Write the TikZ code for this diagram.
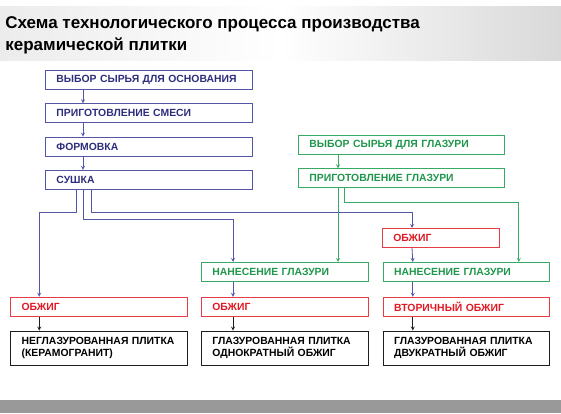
\documentclass[tikz,border=0pt]{standalone}
\usepackage{fontspec}
\setmainfont{Liberation Sans}
\usetikzlibrary{positioning, arrows, calc}
\definecolor{navy}{RGB}{45,45,125}
\definecolor{navyline}{RGB}{85,85,165}
\definecolor{grn}{RGB}{30,150,75}
\definecolor{grnline}{RGB}{55,170,100}
\definecolor{rd}{RGB}{225,25,35}
\definecolor{rdline}{RGB}{230,60,70}
\definecolor{blk}{RGB}{30,30,30}

\tikzset{
    box/.style={draw, anchor=north west, minimum height=19pt, inner xsep=11pt, inner ysep=2pt,
        text width=#1, align=left, font=\bfseries\fontsize{10.4}{12.5}\selectfont},
    bluebox/.style={box=#1, draw=navyline, text=navy},
    greenbox/.style={box=#1, draw=grnline, text=grn},
    redbox/.style={box=#1, draw=rdline, text=rd},
    tilebox/.style={box=#1, draw=blk, text=black, minimum height=34pt},
}

\begin{document}
\begin{tikzpicture}[x=1pt, y=-1pt, >=stealth, line width=0.8pt, node distance=13.5pt]
        \useasboundingbox (0,0) rectangle (561,413);
        \shade[left color=gray!15, right color=gray!30, middle color=white] (0,6) rectangle (561,60);
        \fill[gray!80] (0,400) rectangle (561,413);

        \node[anchor=base west, align=left, inner sep=0pt, font=\bfseries\fontsize{17}{22}\selectfont] (title) at (5,50)
            {Схема технологического процесса производства\\керамической плитки};

        \node[bluebox=185pt] (base) at (45,70) {ВЫБОР СЫРЬЯ ДЛЯ ОСНОВАНИЯ};
        \node[bluebox=185pt] (mix) [below=of base] {ПРИГОТОВЛЕНИЕ СМЕСИ};
        \node[bluebox=185pt] (form) [below=of mix] {ФОРМОВКА};
        \node[bluebox=185pt] (dry) [below=of form] {СУШКА};

        \node[greenbox=184pt] (gsel) at (298,135) {ВЫБОР СЫРЬЯ ДЛЯ ГЛАЗУРИ};
        \node[greenbox=184pt] (gprep) [below=of gsel] {ПРИГОТОВЛЕНИЕ ГЛАЗУРИ};

        \node[greenbox=145pt] (glaze2) at (201,262) {НАНЕСЕНИЕ ГЛАЗУРИ};
        \node[redbox=145pt] (fire2) [below=15pt of glaze2] {ОБЖИГ};
        \node[tilebox=145pt] (tile2) [below=14pt of fire2] {ГЛАЗУРОВАННАЯ ПЛИТКА\\ОДНОКРАТНЫЙ ОБЖИГ};

        \node[redbox=155pt] (fire1) [left=13pt of fire2] {ОБЖИГ};
        \node[tilebox=155pt] (tile1) [below=14pt of fire1] {НЕГЛАЗУРОВАННАЯ ПЛИТКА\\(КЕРАМОГРАНИТ)};

        \node[redbox=95pt] (fire3) at (382,228) {ОБЖИГ};
        \node[greenbox=144pt] (glaze3) [right=14pt of glaze2] {НАНЕСЕНИЕ ГЛАЗУРИ};
        \node[redbox=144pt] (fire4) [below=15pt of glaze3] {ВТОРИЧНЫЙ ОБЖИГ};
        \node[tilebox=144pt] (tile3) [below=14pt of fire4] {ГЛАЗУРОВАННАЯ ПЛИТКА\\ДВУКРАТНЫЙ ОБЖИГ};

        \coordinate (g1) at ([xshift=40pt]gprep.south west);
        \coordinate (g2) at ([xshift=46pt]gprep.south west);
        \coordinate (g0) at ([xshift=40pt]gsel.south west);

        \path[->, color=navyline]
        ([xshift=38pt]base.south west) edge ([xshift=38pt]mix.north west)
        ([xshift=38pt]mix.south west) edge ([xshift=38pt]form.north west)
        ([xshift=38pt]form.south west) edge ([xshift=38pt]dry.north west)
        ([xshift=30pt]fire3.south west) edge ([xshift=30pt]glaze3.north west)
        ([xshift=30pt]glaze3.south west) edge ([xshift=30pt]fire4.north west)
        ([xshift=32pt]glaze2.south west) edge ([xshift=32pt]fire2.north west)
        ;
        \draw[->, navyline] ([xshift=31pt]dry.south west) -- ++(0,23) -| ([xshift=29pt]fire1.north west);
        \draw[->, navyline] ([xshift=38pt]dry.south west) -- ++(0,30) -| ([xshift=32pt]glaze2.north west);
        \draw[->, navyline] ([xshift=46pt]dry.south west) -- ++(0,23) -| ([xshift=30pt]fire3.north west);

        \path[->, color=grnline]
        (g0) edge (g0 |- gprep.north)
        (g1) edge (g1 |- glaze2.north)
        ;
        \draw[->, grnline] (g2) -- ++(0,14) -| ([xshift=136pt]glaze3.north west);

        \path[->, color=blk]
        ([xshift=29pt]fire1.south west) edge ([xshift=29pt]tile1.north west)
        ([xshift=32pt]fire2.south west) edge ([xshift=32pt]tile2.north west)
        ([xshift=30pt]fire4.south west) edge ([xshift=30pt]tile3.north west)
        ;
    \end{tikzpicture}
\end{document}
